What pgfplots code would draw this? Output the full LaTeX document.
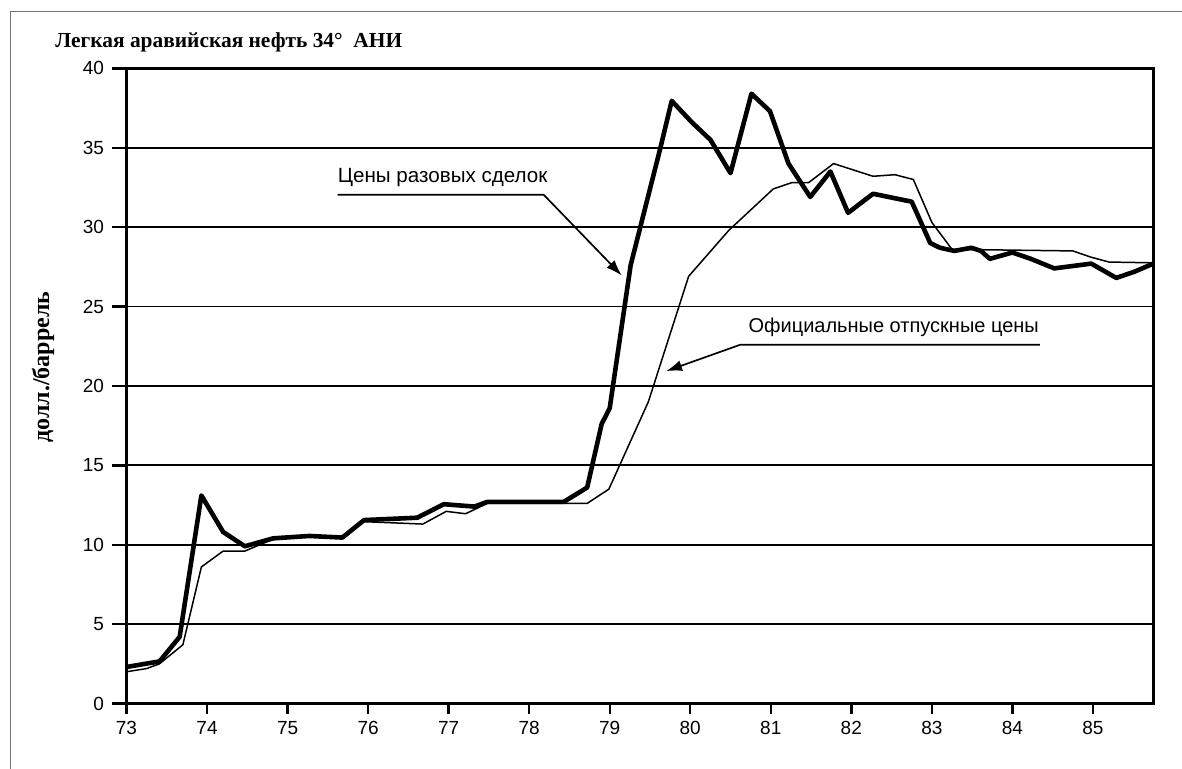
\documentclass[border=0pt]{standalone}
\usepackage{pgfplots}
\pgfplotsset{compat=1.18}
\usepackage{fontspec}
\setmainfont{Liberation Sans}
\newfontfamily\serifb{Liberation Serif}
\usetikzlibrary{arrows.meta}
\begin{document}
\begin{tikzpicture}
\useasboundingbox (0,0) rectangle (591pt,-384.5pt);
\draw[black!55, line width=0.5pt] (5.25pt,-390pt) -- (5.25pt,-5.75pt) -- (600pt,-5.75pt);
\node[anchor=base west, font=\serifb\bfseries\fontsize{10.7}{12}\selectfont, inner sep=0pt] at (27.5pt,-24pt) {Легкая аравийская нефть 34°\ \ АНИ};
\node[rotate=90, font=\serifb\bfseries\fontsize{12}{14}\selectfont, inner sep=0pt] at (21.5pt,-183.5pt) {долл./баррель};
\begin{axis}[
  scale only axis, width=513.4pt, height=317.6pt,
  at={(63.25pt,-351.75pt)}, anchor=south west,
  xmin=73, xmax=85.75, ymin=0, ymax=40,
  xtick={73,74,...,85}, ytick={0,5,...,40},
  ymajorgrids, grid style={black, line width=0.9pt},
  axis line style={black, line width=1.2pt},
  tick align=outside, xtick pos=bottom, ytick pos=left,
  xtick style={black, line width=1.2pt, /pgfplots/major tick length=5pt},
  ytick style={black, line width=1.2pt, /pgfplots/major tick length=7.5pt},
  /pgf/number format/assume math mode=true,
  ticklabel style={font=\fontsize{9.5}{10}\selectfont},
  xticklabel style={yshift=-1pt},
  yticklabel style={xshift=-3.5pt},
  clip=false,
]
\addplot[black, line width=2.3pt, line join=round] coordinates {
(73.0,2.3) (73.41,2.65) (73.66,4.2) (73.93,13.1) (74.2,10.8) (74.47,9.9)
(74.82,10.4) (75.27,10.55) (75.68,10.45) (75.95,11.55) (76.61,11.7)
(76.94,12.55) (77.32,12.4) (77.48,12.7) (78.43,12.7) (78.72,13.6)
(78.9,17.6) (79.0,18.6) (79.26,27.6) (79.63,35.0) (79.77,37.95)
(80.02,36.6) (80.25,35.5) (80.5,33.4) (80.76,38.4) (80.99,37.3)
(81.22,34.0) (81.49,31.9) (81.74,33.5) (81.96,30.9) (82.27,32.1)
(82.75,31.6) (82.98,29.0) (83.1,28.7) (83.28,28.5) (83.49,28.7)
(83.61,28.5) (83.72,28.0) (84.0,28.4) (84.23,28.0) (84.52,27.4)
(84.98,27.7) (85.29,26.8) (85.52,27.2) (85.75,27.7)
};
\addplot[black, line width=0.75pt, line join=round] coordinates {
(73.0,2.0) (73.25,2.2) (73.41,2.5) (73.7,3.7) (73.93,8.6) (74.2,9.6)
(74.47,9.6) (74.82,10.35) (75.27,10.5) (75.68,10.4) (75.95,11.45)
(76.68,11.3) (76.97,12.1) (77.21,11.95) (77.48,12.6) (78.72,12.6)
(78.99,13.5) (79.48,19.0) (79.98,26.9) (80.48,29.8) (81.03,32.4)
(81.26,32.8) (81.47,32.8) (81.78,34.0) (82.27,33.2) (82.54,33.3)
(82.77,33.0) (83.0,30.3) (83.25,28.6) (84.75,28.5) (84.98,28.1)
(85.2,27.8) (85.75,27.75)
};
\node[anchor=base west, inner sep=0pt, font=\fontsize{10.3}{12}\selectfont] at (axis cs:75.62,32.8) {Цены разовых сделок};
\draw[line width=0.85pt, -{Latex[length=8pt,width=5.5pt]}] (axis cs:75.62,32.04) -- (axis cs:78.18,32.04) -- (axis cs:79.15,26.95);
\node[anchor=base west, inner sep=0pt, font=\fontsize{10}{12}\selectfont] at (axis cs:80.72,23.36) {Официальные отпускные цены};
\draw[line width=0.85pt, -{Latex[length=8pt,width=5.5pt]}] (axis cs:84.34,22.59) -- (axis cs:80.62,22.59) -- (axis cs:79.70,20.93);
\end{axis}
\end{tikzpicture}
\end{document}
